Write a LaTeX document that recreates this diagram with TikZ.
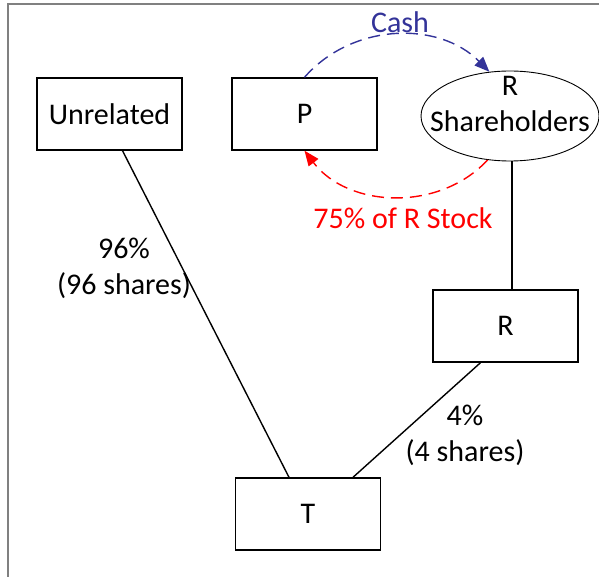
\documentclass[tikz,border=0pt]{standalone}
\usepackage{fontspec}
\setmainfont{Carlito}
\usetikzlibrary{shapes.geometric,arrows.meta}
\definecolor{cashblue}{RGB}{51,51,153}

\tikzset{
  entity/.style={draw,line width=1.4pt,minimum width=145pt,minimum height=72pt,inner sep=0pt},
  flow/.style={dashed,dash pattern=on 12pt off 7pt,line width=1.4pt,-{Triangle[length=15pt,width=12pt]}}
}

\begin{document}
\begin{tikzpicture}[x=1pt,y=-1pt,font=\fontsize{30pt}{36pt}\selectfont]
\useasboundingbox (0,0) rectangle (599,577);
%外枠
\draw[gray,line width=1.5pt] (8,4) rectangle (640,620);

%会社
\node[entity] (unrel) at (109.5,114) {Unrelated};
\node[entity] (p) at (304.5,114) {P};
\node[entity] (r) at (505.5,326) {R};
\node[entity] (t) at (308,514) {T};

%株主
\node[draw,ellipse,line width=0.9pt,minimum width=178pt,minimum height=90pt,inner sep=0pt] (rsh) at (510,116) {};
\node[align=center,inner sep=0pt] (rshtext) at (510,104) {R\\Shareholders};

%持株関係
\draw[line width=1.4pt] ([xshift=13pt]unrel.south) -- ([xshift=-19pt]t.north);
\draw[line width=1.4pt] ([xshift=-25pt]r.south) -- ([xshift=45pt]t.north);
\draw[line width=1.4pt] ([xshift=2pt]rsh.south) -- ([xshift=2pt]rsh.south |- r.north);

%ラベル
\node[align=center,inner sep=0pt] (pct96) at (124,268) {96\%\\(96 shares)};
\node[align=center,inner sep=0pt] (pct4) at (465,435) {4\%\\(4 shares)};

%交換
\draw[flow,cashblue] (p.north) to[bend left=47] (rsh.115);
\node[text=cashblue,inner sep=0pt] (cash) at (400,22) {Cash};
\draw[flow,red] (rsh.243) to[bend left=50] (p.south);
\node[text=red,inner sep=0pt] (stock) at (403,218) {75\% of R Stock};
\end{tikzpicture}
\end{document}
